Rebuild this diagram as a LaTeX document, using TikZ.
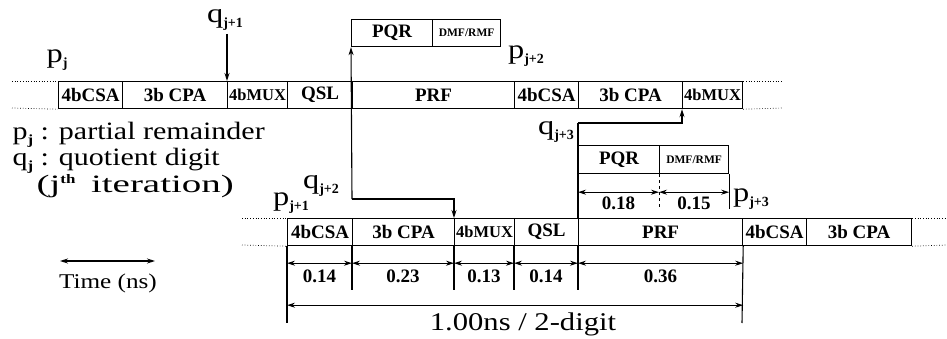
\documentclass[tikz,border=0pt]{standalone}
\usepackage{fontspec}
\setmainfont{Liberation Serif}
\newfontfamily\widefont[FakeStretch=1.2]{Liberation Serif}
\usetikzlibrary{arrows.meta,calc}
\newcommand{\pqlab}[2]{{\widefont\fontsize{27}{27}\selectfont #1}\raisebox{-5pt}{\fontsize{14}{14}\selectfont\bfseries #2}}
\newcommand{\pqleg}[2]{{\widefont\fontsize{25}{25}\selectfont #1}\raisebox{-5pt}{\fontsize{14}{14}\selectfont\bfseries #2}}
\begin{document}
\begin{tikzpicture}[x=1pt,y=-1pt,
  line width=1.1pt,
  blk/.style={draw, line width=1.2pt, minimum height=27pt, inner sep=0pt, anchor=north west,
    font=\fontsize{19}{19}\selectfont\bfseries},
  mux/.style={font=\fontsize{16.5}{16.5}\selectfont\bfseries},
  small/.style={font=\fontsize{11.5}{11.5}\selectfont\bfseries},
  dots/.style={dotted, line width=0.7pt},
  arr/.style={-{Stealth[length=8pt,width=5pt]}},
  darr/.style={{Stealth[length=8pt,width=5pt]}-{Stealth[length=8pt,width=5pt]}},
  dim/.style={font=\fontsize{19}{19}\selectfont\bfseries, anchor=center},
  big/.style={font=\widefont\fontsize{25}{27}\selectfont, inner sep=0pt},
  lbl/.style={inner sep=0pt}
]
\useasboundingbox (0,0) rectangle (947,339);

% top row
\node[blk, minimum width=64pt]  (A1) at (58,81)  {4bCSA};
\node[blk, minimum width=105pt] (B1) at (122,81) {3b CPA};
\node[blk, mux, minimum width=60pt]  (C1) at (227,81) {4bMUX};
\node[blk, minimum width=65pt]  (D1) at (287,81) {QSL};
\node[blk, minimum width=162pt] (E1) at (352,81) {PRF};
\node[blk, minimum width=64pt]  (F1) at (514,81) {4bCSA};
\node[blk, minimum width=104pt] (G1) at (578,81) {3b CPA};
\node[blk, mux, minimum width=60pt]  (H1) at (682,81) {4bMUX};

% lower row
\node[blk, minimum width=65pt]  (A2) at (287,218) {4bCSA};
\node[blk, minimum width=102pt] (B2) at (352,218) {3b CPA};
\node[blk, mux, minimum width=60pt]  (C2) at (454,218) {4bMUX};
\node[blk, minimum width=64pt]  (D2) at (514,218) {QSL};
\node[blk, minimum width=164pt] (E2) at (578,218) {PRF};
\node[blk, minimum width=64pt]  (F2) at (742,218) {4bCSA};
\node[blk, minimum width=105pt] (G2) at (806,218) {3b CPA};

% PQR boxes
\node[blk, minimum width=81pt] (P1) at (351,19) {PQR};
\node[blk, small, minimum width=68pt] (R1) at (432,19) {DMF/RMF};
\node[blk, minimum width=81pt, minimum height=28pt] (P2) at (578,145) {PQR};
\node[blk, small, minimum width=69pt, minimum height=28pt] (R2) at (659,145) {DMF/RMF};

% dotted continuation lines
\coordinate (tl1) at (12,81);  \coordinate (tl2) at (12,108);
\coordinate (tr1) at (783,81); \coordinate (tr2) at (783,108);
\coordinate (ll1) at (242,218); \coordinate (ll2) at (242,245);
\coordinate (lr1) at (947,218); \coordinate (lr2) at (947,245);
\draw[dots] (tl1) -- (A1.north west);
\draw[dots] (tl2) -- (A1.south west);
\draw[dots] (H1.north east) -- (tr1);
\draw[dots] (H1.south east) -- (tr2);
\draw[dots] (ll1) -- (A2.north west);
\draw[dots] (ll2) -- (A2.south west);
\draw[dots] (G2.north east) -- (lr1);
\draw[dots] (G2.south east) -- (lr2);

% labels p / q
\node[lbl] (pj)  at (57,60)  {\pqlab{p}{j}};
\node[lbl] (pj2) at (526,56) {\pqlab{p}{j+2}};
\node[lbl] (pj1) at (291,203) {\pqlab{p}{j+1}};
\node[lbl] (pj3) at (751,199) {\pqlab{p}{j+3}};
\node[lbl] (qj1) at (225,20) {\pqlab{q}{j+1}};
\node[lbl] (qj2) at (321,186) {\pqlab{q}{j+2}};
\node[lbl] (qj3) at (556,132) {\pqlab{q}{j+3}};

% q_{j+1} arrow
\coordinate (q1s) at (227,34);
\draw[arr] (q1s) -- (C1.north west);

% q_{j+2} routing
\coordinate (c2) at (352,199);
\draw[arr] (c2) -- (P1.south west);
\draw[arr] (c2) -| (C2.north west);

% q_{j+3} routing
\coordinate (c3) at (578,123);
\draw[arr] (c3) -| (H1.south west);
\draw (c3) -- (E2.north west);

% lower dimension ticks
\coordinate (t0) at (287,323);
\coordinate (t5) at (742,323);
\draw (A2.south west) -- (t0);
\draw (E2.south east) -- (t5);
\draw (B2.south west) -- ++(0,44);
\draw (C2.south west) -- ++(0,44);
\draw (D2.south west) -- ++(0,44);
\draw (E2.south west) -- ++(0,44);

% lower dimension arrows
\foreach \a/\b/\t in {A2/B2/0.14, B2/C2/0.23, C2/D2/0.13, D2/E2/0.14}{
  \draw[darr] ($(\a.south west)+(0,17)$) -- ($(\b.south west)+(0,17)$);
  \node[dim] at ($(\a.south west)!0.5!(\b.south west)+(0,30)$) {\t};
}
\draw[darr] ($(E2.south west)+(0,17)$) -- ($(E2.south east)+(0,17)$);
\node[dim] at ($(E2.south west)!0.5!(E2.south east)+(0,30)$) {0.36};

% total
\draw[darr] ($(A2.south west)+(0,59)$) -- ($(E2.south east)+(0,59)$);
\node[big, font=\widefont\fontsize{25.5}{26}\selectfont, anchor=base] (tot) at (523,330) {1.00ns / 2-digit};

% upper small dimensions
\draw[dashed, line width=0.8pt] (R2.south west) -- ++(0,35);
\draw (R2.south east) -- ++(0,35);
\draw[darr] ($(P2.south west)+(0,18)$) -- ($(R2.south west)+(0,18)$);
\draw[darr] ($(R2.south west)+(0,18)$) -- ($(R2.south east)+(0,18)$);
\node[dim] at ($(P2.south west)!0.5!(R2.south west)+(0,29)$) {0.18};
\node[dim] at ($(R2.south west)!0.5!(R2.south east)+(0,29)$) {0.15};

% legend
\node[big, anchor=base west] (l1) at (12,140) {\pqleg{p}{j} : partial remainder};
\node[big, anchor=base west] (l2) at (12,166) {\pqleg{q}{j} : quotient digit};
\node[big, anchor=base west] (l3) at (36,193) {\scalebox{1.3}[1]{(j\raisebox{9pt}{\normalfont\fontsize{13}{13}\selectfont\bfseries th}\hspace{12pt}iteration)}};

% time legend
\coordinate (ta) at (60,261);
\coordinate (tb) at (155,261);
\draw[darr] (ta) -- (tb);
\node[font=\widefont\fontsize{21}{21}\selectfont, inner sep=0pt, anchor=base] (tl) at (108,288) {Time (ns)};
\end{tikzpicture}
\end{document}
